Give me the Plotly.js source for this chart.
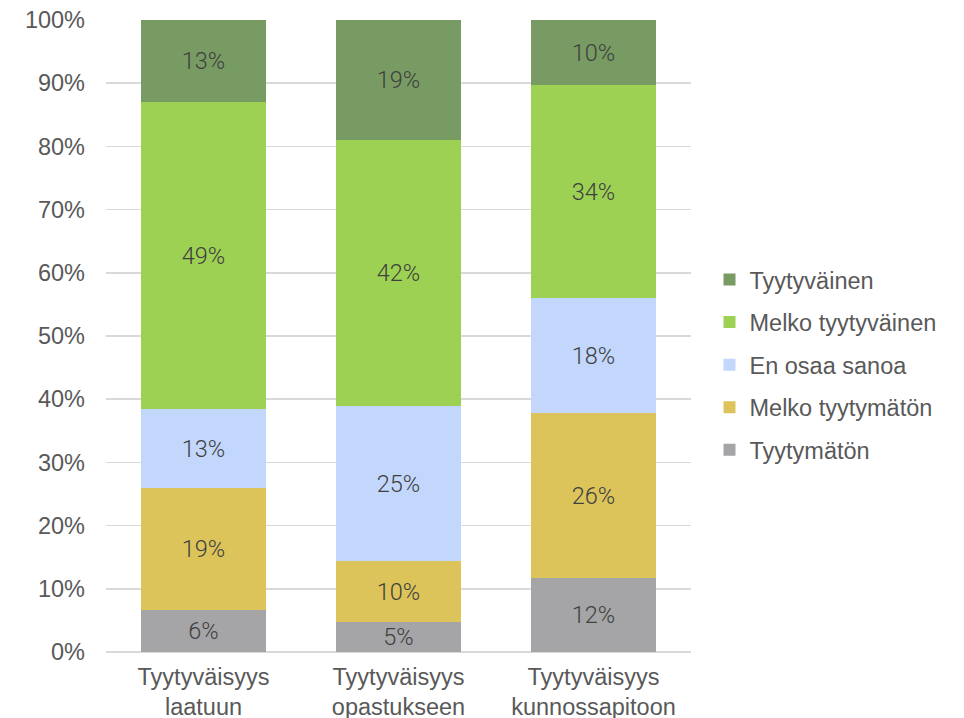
<!DOCTYPE html>
<html>
<head>
<meta charset="utf-8">
<script src="https://cdn.plot.ly/plotly-3.0.1.min.js"></script>
<style>html,body{margin:0;padding:0;background:#fff;}#chart{width:964px;height:718px;}</style>
</head>
<body>
<div id="chart"></div>
<script>
const categories = ["Tyytyväisyys<br>laatuun", "Tyytyväisyys<br>opastukseen", "Tyytyväisyys<br>kunnossapitoon"];
const seriesNames = ["Tyytymätön", "Melko tyytymätön", "En osaa sanoa", "Melko tyytyväinen", "Tyytyväinen"];
const tyytymaton = [6.6, 4.7, 11.7];
const melkoTyytymaton = [19.3, 9.7, 26.1];
const enOsaaSanoa = [12.5, 24.5, 18.2];
const melkoTyytyvainen = [48.6, 42.1, 33.7];
const tyytyvainen = [13.0, 19.0, 10.3];
const labelsTyytymaton = ["6%", "5%", "12%"];
const labelsMelkoTyytymaton = ["19%", "10%", "26%"];
const labelsEnOsaa = ["13%", "25%", "18%"];
const labelsMelkoTyytyvainen = ["49%", "42%", "34%"];
const labelsTyytyvainen = ["13%", "19%", "10%"];
const yTicks = [0, 10, 20, 30, 40, 50, 60, 70, 80, 90, 100];
const yTickLabels = ["0%", "10%", "20%", "30%", "40%", "50%", "60%", "70%", "80%", "90%", "100%"];

const colors = ["#a5a5a7", "#dcc45b", "#c3d6fb", "#9dd153", "#789b63"];
const values = [tyytymaton, melkoTyytymaton, enOsaaSanoa, melkoTyytyvainen, tyytyvainen];
const labels = [labelsTyytymaton, labelsMelkoTyytymaton, labelsEnOsaa, labelsMelkoTyytyvainen, labelsTyytyvainen];

const traces = seriesNames.map((name, i) => ({
  type: "bar",
  name: name,
  x: categories,
  y: values[i],
  text: labels[i],
  texttemplate: "%{text}",
  textposition: "inside",
  insidetextanchor: "middle",
  textangle: 0,
  constraintext: "none",
  textfont: {family: "Roboto, 'DejaVu Sans', sans-serif", size: 23.5, color: "#404040", weight: 300},
  marker: {color: colors[i], line: {width: 0}},
  legendgroup: "g" + i,
  legendrank: 10 - i,
  hoverinfo: "none"
}));

const layout = {
  width: 964,
  height: 718,
  margin: {l: 106, r: 273, t: 20, b: 66},
  paper_bgcolor: "#ffffff",
  plot_bgcolor: "#ffffff",
  barmode: "stack",
  bargap: 0.36,
  showlegend: true,
  legend: {
    traceorder: "grouped",
    tracegroupgap: 9,
    x: 0.736, xref: "container", xanchor: "left",
    y: 0.641, yref: "container", yanchor: "top",
    font: {family: "'Liberation Sans', Arial, sans-serif", size: 23.5, color: "#595959"},
    itemwidth: 30,
    bgcolor: "rgba(0,0,0,0)"
  },
  xaxis: {
    tickfont: {family: "'Liberation Sans', Arial, sans-serif", size: 23.5, color: "#595959"},
    showline: false,
    ticks: "",
    showgrid: false,
    ticklabelstandoff: 8,
    automargin: false
  },
  yaxis: {
    range: [0, 100],
    tickvals: yTicks,
    ticktext: yTickLabels,
    tickfont: {family: "'Liberation Sans', Arial, sans-serif", size: 23.5, color: "#595959"},
    gridcolor: "#d9d9d9",
    gridwidth: 1.5,
    zeroline: true,
    zerolinecolor: "#d9d9d9",
    zerolinewidth: 1.5,
    showline: false,
    ticks: "",
    ticklabelstandoff: 20,
    automargin: false
  }
};

Plotly.newPlot("chart", traces, layout, {displayModeBar: false, staticPlot: true});
</script>
</body>
</html>
